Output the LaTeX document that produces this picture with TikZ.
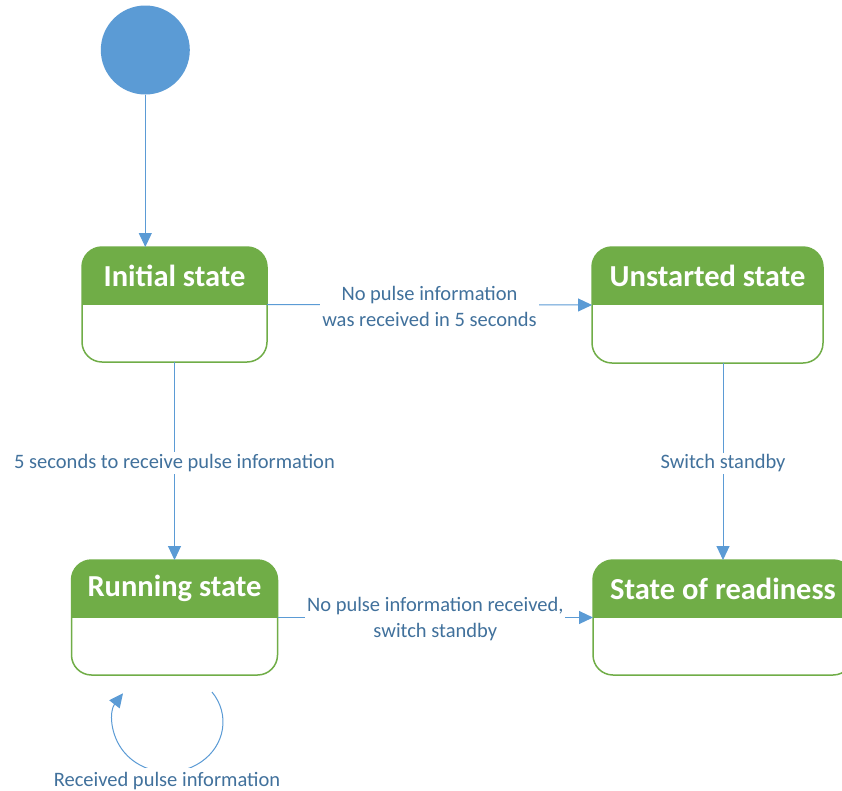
\documentclass[tikz,border=0pt]{standalone}
\usepackage{fontspec}
\setmainfont{Carlito}
\usetikzlibrary{arrows.meta,calc}
\definecolor{hdrgreen}{HTML}{70AD47}
\definecolor{linkblue}{HTML}{5B9BD5}
\definecolor{txtblue}{HTML}{41719C}
\tikzset{
  statebox/.style={draw=hdrgreen, line width=1.5pt, rounded corners=20pt, inner sep=0pt, outer sep=0pt, fill=white},
  hdrtext/.style={text=white, font=\fontsize{30.5}{33}\selectfont\bfseries, inner sep=0pt},
  conn/.style={draw=linkblue, line width=1pt, -{Triangle[length=14pt,width=13pt]}},
  lbl/.style={text=txtblue, font=\fontsize{20.5}{26}\selectfont, fill=white, inner sep=2pt, align=center, yshift=-2pt},
}
\newcommand{\stateheader}[2]{%
  \begin{scope}
    \clip[rounded corners=20pt] (#1.south west) rectangle (#1.north east);
    \fill[hdrgreen] (#1.west) rectangle (#1.north east);
  \end{scope}
  \node[hdrtext] at ($(#1.north)!0.5!(#1.center)$) {#2};
}
\begin{document}
\begin{tikzpicture}[x=1pt,y=-1pt]
\clip (0,0) rectangle (842,790);
\fill[white] (0,0) rectangle (842,790);
% start
\node[circle, fill=linkblue, minimum size=89pt, inner sep=0pt] (start) at (145.3,50) {};
% states
\node[statebox, minimum width=185pt, minimum height=115pt] (init) at (174.5,304.5) {};
\stateheader{init}{Initial state}
\node[statebox, minimum width=231pt, minimum height=116pt] (unst) at (707.5,305) {};
\stateheader{unst}{Unstarted state}
\node[statebox, minimum width=206pt, minimum height=115pt] (run) at (174.5,617.5) {};
\stateheader{run}{Running state}
\node[statebox, minimum width=260pt, minimum height=115pt] (readi) at (723,617.5) {};
\stateheader{readi}{State of readiness}
% connectors
\draw[conn] (start.south) -- (start.south |- init.north);
\draw[conn] (init.east) -- node[lbl] {No pulse information\\was received in 5 seconds} (unst.west);
\draw[conn] (init.south) -- node[lbl] {5 seconds to receive pulse information} (run.north);
\draw[conn] (readi.north |- unst.south) -- node[lbl] {Switch standby} (readi.north);
\draw[conn] (run.east) -- node[lbl] {No pulse information received,\\switch standby} (readi.west);
% self loop
\coordinate (ls) at (212,692);
\draw[conn] (ls) arc[start angle=36.87, end angle=-215.1, x radius=55pt, y radius=50pt];
\node[lbl, inner ysep=4pt] (looplbl) at (167,779) {Received pulse information};
\end{tikzpicture}
\end{document}
